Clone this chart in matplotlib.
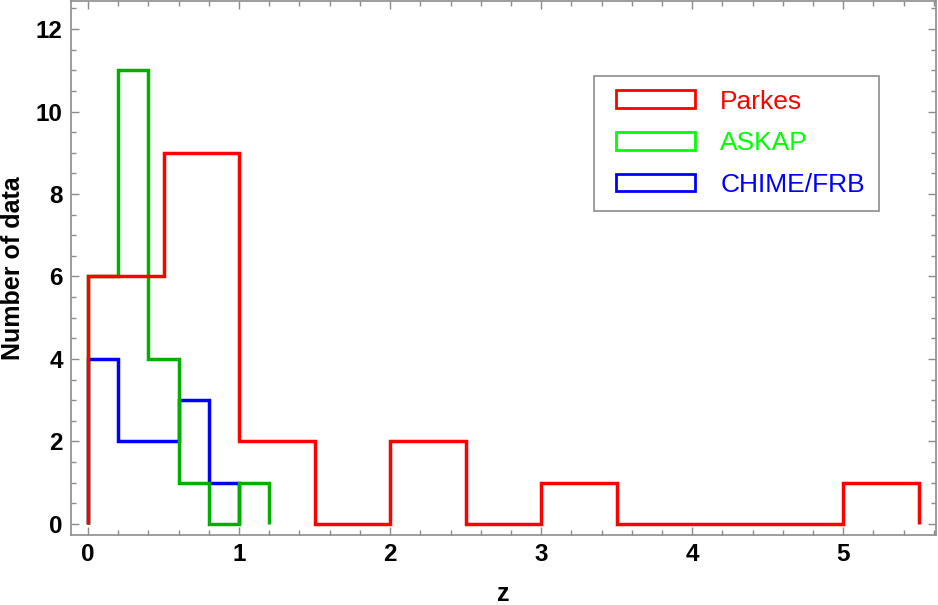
import matplotlib.pyplot as plt
from matplotlib.patches import Rectangle
from matplotlib.legend_handler import HandlerPatch
from matplotlib.ticker import MultipleLocator

# histogram counts
parkes_edges = [0, 0.5, 1, 1.5, 2, 2.5, 3, 3.5, 4, 4.5, 5, 5.5]
parkes_counts = [6, 9, 2, 0, 2, 0, 1, 0, 0, 0, 1]

askap_edges = [0, 0.2, 0.4, 0.6, 0.8, 1.0, 1.2]
askap_counts = [6, 11, 4, 1, 0, 1]

chime_edges = [0, 0.2, 0.4, 0.6, 0.8, 1.0]
chime_counts = [4, 2, 2, 3, 1]

labels = ["Parkes", "ASKAP", "CHIME/FRB"]
line_colors = ["#ff0000", "#00b000", "#0000ff"]
legend_colors = ["#ff0000", "#00ff00", "#0000ff"]

plt.rcParams['font.family'] = ['Liberation Sans', 'DejaVu Sans']

fig = plt.figure(figsize=(9.38, 6.05), dpi=100)
ax = fig.add_axes([0.0757, 0.1157, 0.9222, 0.8826])

# red drawn last so it sits on top
ax.stairs(chime_counts, chime_edges, color=line_colors[2], lw=2.5, baseline=0)
ax.stairs(askap_counts, askap_edges, color=line_colors[1], lw=2.5, baseline=0)
ax.stairs(parkes_counts, parkes_edges, color=line_colors[0], lw=2.5, baseline=0)

ax.set_xlim(-0.113, 5.615)
ax.set_ylim(-0.27, 12.68)

ax.xaxis.set_major_locator(MultipleLocator(1))
ax.xaxis.set_minor_locator(MultipleLocator(0.2))
ax.yaxis.set_major_locator(MultipleLocator(2))
ax.yaxis.set_minor_locator(MultipleLocator(0.5))

for s in ax.spines.values():
    s.set_color("#8c8c8c")
    s.set_linewidth(1.2)

ax.tick_params(which='both', direction='in', top=True, right=True,
               color="#8c8c8c", width=1.0)
ax.tick_params(which='major', length=6, labelsize=17.5, pad=6)
ax.tick_params(which='minor', length=3.5)
for lab in ax.get_xticklabels() + ax.get_yticklabels():
    lab.set_fontweight('bold')

ax.set_xlabel("z", fontsize=18, fontweight='bold', labelpad=11)
ax.set_ylabel("Number of data", fontsize=18, fontweight='bold', labelpad=8)


# open rectangle handle, shifted a bit right inside the handle box
def open_box(legend, orig_handle, xdescent, ydescent, width, height, fontsize):
    off = 6.0
    return Rectangle((-xdescent + off, -ydescent), width - off, height)


handles = [Rectangle((0, 0), 1, 1, facecolor='none', edgecolor=c, lw=2)
           for c in legend_colors]
leg = ax.legend(handles, labels, loc='upper left', bbox_to_anchor=(0.605, 0.86),
                borderaxespad=0, fontsize=19, handlelength=3.3, handleheight=0.65,
                handletextpad=0.95, labelspacing=0.67, borderpad=0.52,
                fancybox=False, framealpha=1,
                handler_map={Rectangle: HandlerPatch(patch_func=open_box)})
leg.get_frame().set_edgecolor("#8c8c8c")
leg.get_frame().set_linewidth(1.2)
for t, c in zip(leg.get_texts(), legend_colors):
    t.set_color(c)

plt.savefig("out.png", dpi=100)
